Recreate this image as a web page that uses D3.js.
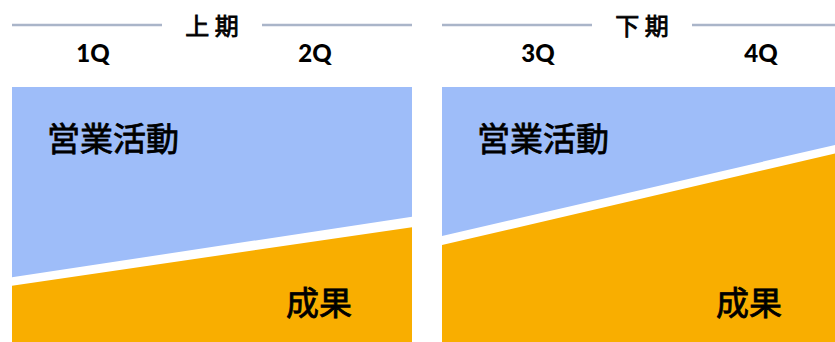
<!DOCTYPE html>
<html>
<head>
<meta charset="utf-8">
<script src="https://cdn.jsdelivr.net/npm/d3@7"></script>
<style>
  html, body { margin: 0; padding: 0; background: #fff; overflow: hidden; }
  svg { display: block; }
  .cjk { font-family: 'Noto Sans CJK JP'; font-weight: 400; stroke: #000; stroke-width: 0.8px; }
</style>
</head>
<body>
<div id="chart"></div>
<script>
// data
const halves = ["上 期", "下 期"];
const quarters = [["1Q", "2Q"], ["3Q", "4Q"]];
const activityLabel = "営業活動";
const resultLabel = "成果";
// share (%) at the start and end of each half
const activityBottom = [[25.4, 49.1], [41.6, 77.9]];
const resultTop = [[22.1, 45.0], [38.0, 74.6]];

const W = 835, H = 342;
const PANEL_W = 400, GAP = 30, LEFT = 12;
const TOP = 87, BOTTOM = 342;
const quarterOffset = [[81, 303], [96, 319]];

const svg = d3.select("#chart").append("svg")
    .attr("width", W)
    .attr("height", H);

const y = d3.scaleLinear().domain([0, 100]).range([BOTTOM, TOP]);

halves.forEach((h, i) => {
    const x0 = LEFT + i * (PANEL_W + GAP);
    const x = d3.scaleLinear().domain([0, 1]).range([x0, x0 + PANEL_W]);
    const g = svg.append("g");

    // header line + half label
    const cx = x0 + PANEL_W / 2;
    g.append("line")
        .attr("x1", x0).attr("x2", cx - 50)
        .attr("y1", 25).attr("y2", 25)
        .attr("stroke", "#aab5c9").attr("stroke-width", 2.5);
    g.append("line")
        .attr("x1", cx + 50).attr("x2", x0 + PANEL_W)
        .attr("y1", 25).attr("y2", 25)
        .attr("stroke", "#aab5c9").attr("stroke-width", 2.5);
    g.append("text")
        .attr("class", "cjk")
        .attr("x", cx).attr("y", 24)
        .attr("text-anchor", "middle")
        .attr("dominant-baseline", "central")
        .style("font-size", "24px")
        .text(h);

    // quarter labels
    quarters[i].forEach((q, j) => {
        g.append("text")
            .attr("x", x0 + quarterOffset[i][j])
            .attr("y", 52)
            .attr("text-anchor", "middle")
            .attr("dominant-baseline", "central")
            .style("font-family", "Lato, 'Noto Sans', sans-serif")
            .style("font-weight", 900)
            .style("font-size", "24px")
            .text(q);
    });

    const pts = [0, 1];

    // 営業活動 area (top down to its lower edge)
    const actArea = d3.area()
        .x(t => x(t))
        .y0(y(100))
        .y1((t, k) => y(activityBottom[i][k]));
    g.append("path")
        .datum(pts)
        .attr("d", actArea)
        .attr("fill", "#9ebdf9");

    // 成果 area (bottom up to its upper edge)
    const resArea = d3.area()
        .x(t => x(t))
        .y0(y(0))
        .y1((t, k) => y(resultTop[i][k]));
    g.append("path")
        .datum(pts)
        .attr("fill", "#f9ae00")
        .attr("d", resArea);

    g.append("text")
        .attr("class", "cjk")
        .attr("x", x0 + 35).attr("y", 137)
        .attr("dominant-baseline", "central")
        .style("font-size", "33px")
        .text(activityLabel);

    g.append("text")
        .attr("class", "cjk")
        .attr("x", x0 + 274).attr("y", 301)
        .attr("dominant-baseline", "central")
        .style("font-size", "33px")
        .text(resultLabel);
});
</script>
</body>
</html>
